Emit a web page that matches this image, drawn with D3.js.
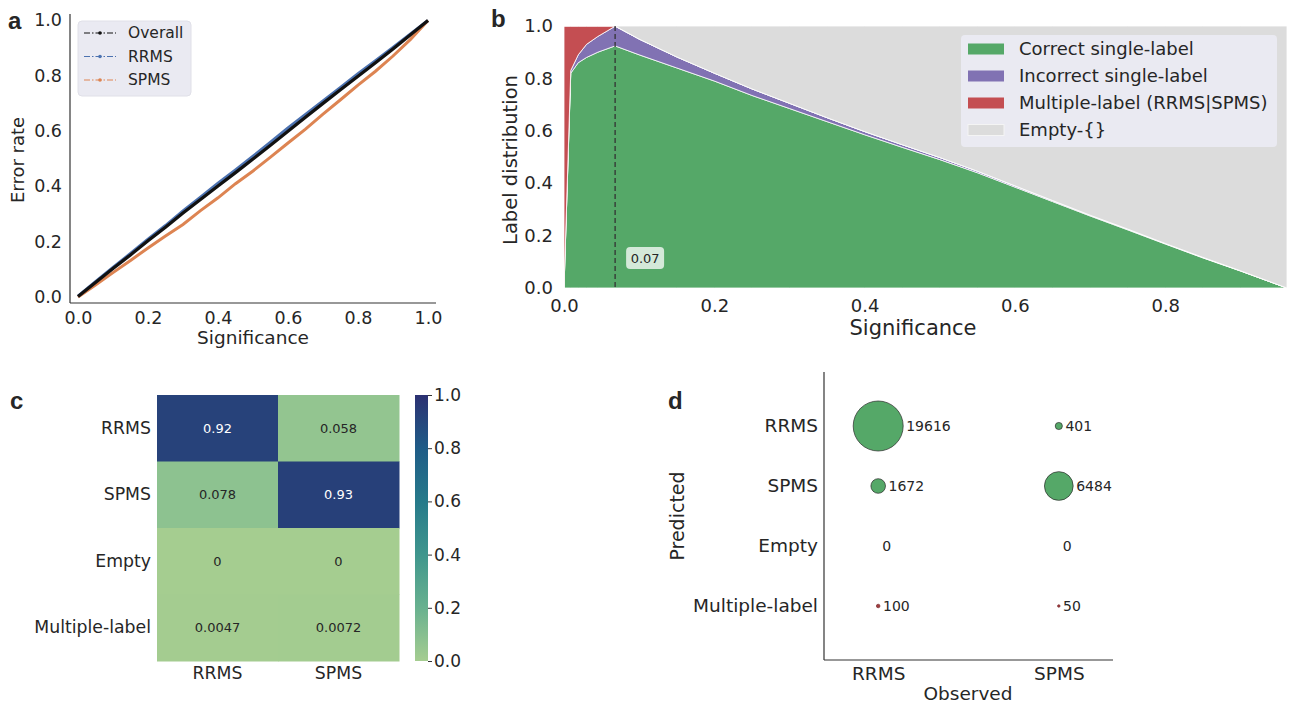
<!DOCTYPE html>
<html>
<head>
<meta charset="utf-8">
<script src="https://cdn.jsdelivr.net/npm/d3@7"></script>
<style>
body { margin: 0; background: #fff; }
svg text { font-family: "DejaVu Sans", sans-serif; fill: #262626; }
</style>
</head>
<body>
<svg id="fig" width="1292" height="707"></svg>
<script>
// ---- panel a : calibration ----
const sigA = [0, 0.05, 0.1, 0.15, 0.2, 0.25, 0.3, 0.35, 0.4, 0.45, 0.5, 0.55, 0.6, 0.65, 0.7, 0.75, 0.8, 0.85, 0.9, 0.95, 1.0];
const errOverall = [0.002, 0.052, 0.103, 0.152, 0.203, 0.252, 0.303, 0.352, 0.401, 0.449, 0.498, 0.548, 0.598, 0.649, 0.699, 0.748, 0.797, 0.846, 0.895, 0.947, 0.998];
const errRRMS = [0.003, 0.055, 0.107, 0.157, 0.209, 0.258, 0.311, 0.36, 0.411, 0.459, 0.508, 0.559, 0.61, 0.659, 0.708, 0.757, 0.806, 0.853, 0.901, 0.95, 0.998];
const errSPMS = [0, 0.043, 0.088, 0.132, 0.177, 0.22, 0.262, 0.312, 0.358, 0.409, 0.455, 0.505, 0.556, 0.606, 0.66, 0.712, 0.765, 0.815, 0.87, 0.93, 0.998];
const seriesA = ["Overall", "RRMS", "SPMS"];

// ---- panel b : label distribution ----
const sigB = [0, 0.009, 0.019, 0.03, 0.045, 0.068, 0.1, 0.15, 0.2, 0.25, 0.3, 0.35, 0.4, 0.45, 0.5, 0.55, 0.6, 0.65, 0.7, 0.75, 0.8, 0.85, 0.9, 0.962];
const correctB = [0, 0.82, 0.86, 0.88, 0.9, 0.924, 0.89, 0.84, 0.79, 0.735, 0.685, 0.635, 0.585, 0.537, 0.49, 0.44, 0.385, 0.33, 0.275, 0.222, 0.168, 0.115, 0.065, 0];
const incorrectB = [0, 0.01, 0.03, 0.05, 0.06, 0.075, 0.06, 0.042, 0.03, 0.025, 0.02, 0.015, 0.012, 0.01, 0.008, 0.006, 0.005, 0.004, 0.003, 0.003, 0.002, 0.002, 0.001, 0];
const multipleB = [1, 0.17, 0.11, 0.07, 0.04, 0.001, 0, 0, 0, 0, 0, 0, 0, 0, 0, 0, 0, 0, 0, 0, 0, 0, 0, 0];
const emptyB = [0, 0, 0, 0, 0, 0, 0.05, 0.118, 0.18, 0.24, 0.295, 0.35, 0.403, 0.453, 0.502, 0.554, 0.61, 0.666, 0.722, 0.775, 0.83, 0.883, 0.934, 1];
const labelsB = ["Correct single-label", "Incorrect single-label", "Multiple-label (RRMS|SPMS)", "Empty-{}"];
const cutoff = 0.068;
const cutoffLabel = "0.07";

// ---- panel c : normalised confusion ----
const predRows = ["RRMS", "SPMS", "Empty", "Multiple-label"];
const obsCols = ["RRMS", "SPMS"];
const rateRRMS = [0.92, 0.078, 0, 0.0047];
const rateSPMS = [0.058, 0.93, 0, 0.0072];
const rateText = [["0.92", "0.058"], ["0.078", "0.93"], ["0", "0"], ["0.0047", "0.0072"]];

// ---- panel d : counts ----
const countRRMS = [19616, 1672, 0, 100];
const countSPMS = [401, 6484, 0, 50];

const svg = d3.select("#fig");
const green = "#55a868", purple = "#8172b3", red = "#c44e52", grey = "#dcdcdc";
const blue = "#4c72b0", orange = "#dd8452";

function panelLetter(x, y, t) {
  svg.append("text").attr("x", x).attr("y", y)
    .style("font-family", "Liberation Sans, Arial, sans-serif")
    .style("font-size", "24px").style("font-weight", "bold").text(t);
}
function cleanAxis(g, size) {
  g.select(".domain").remove();
  g.selectAll("text").style("font-size", size + "px").style("font-family", "DejaVu Sans").attr("fill", "#262626");
}

// ================= panel a =================
{
  const x = d3.scaleLinear([0, 1], [78, 428]);
  const y = d3.scaleLinear([0, 1], [297, 20]);
  const g = svg.append("g");
  g.append("line").attr("x1", 70).attr("x2", 70).attr("y1", 14).attr("y2", 303).attr("stroke", "#333").attr("stroke-width", 1.2);
  g.append("line").attr("x1", 70).attr("x2", 436).attr("y1", 303).attr("y2", 303).attr("stroke", "#333").attr("stroke-width", 1.2);

  g.append("g").attr("transform", "translate(0,303)")
    .call(d3.axisBottom(x).tickValues([0, 0.2, 0.4, 0.6, 0.8, 1]).tickFormat(d3.format(".1f")).tickSize(0).tickPadding(9))
    .call(a => cleanAxis(a, 17.5));
  g.append("g").attr("transform", "translate(70,0)")
    .call(d3.axisLeft(y).tickValues([0, 0.2, 0.4, 0.6, 0.8, 1]).tickFormat(d3.format(".1f")).tickSize(0).tickPadding(8))
    .call(a => cleanAxis(a, 17.5));

  const line = d3.line().x((d, i) => x(sigA[i])).y(d => y(d));
  const cols = { Overall: "#111", RRMS: blue, SPMS: orange };
  const vals = { Overall: errOverall, RRMS: errRRMS, SPMS: errSPMS };
  ["RRMS", "SPMS", "Overall"].forEach(k => {
    g.append("path").attr("d", line(vals[k])).attr("fill", "none")
      .attr("stroke", cols[k]).attr("stroke-width", k === "Overall" ? 3.2 : 3);
  });

  g.append("text").attr("transform", "translate(24,160) rotate(-90)").attr("text-anchor", "middle").style("font-size", "18px").text("Error rate");
  g.append("text").attr("x", 253).attr("y", 344).attr("text-anchor", "middle").style("font-size", "18.5px").text("Significance");

  // legend
  const lg = g.append("g");
  lg.append("rect").attr("x", 78).attr("y", 21).attr("width", 113).attr("height", 75).attr("rx", 4)
    .attr("fill", "#eaeaf2").attr("stroke", "#e0e0e8");
  seriesA.forEach((k, i) => {
    const yy = 33 + i * 23.5;
    lg.append("line").attr("x1", 84).attr("x2", 116).attr("y1", yy).attr("y2", yy)
      .attr("stroke", cols[k]).attr("stroke-width", 1.2).attr("stroke-dasharray", "6,2,1.5,2");
    lg.append("circle").attr("cx", 100).attr("cy", yy).attr("r", 1.8).attr("fill", cols[k]);
    lg.append("text").attr("x", 128).attr("y", yy).attr("dy", "0.35em").style("font-size", "15.5px").text(k);
  });
  panelLetter(8, 29, "a");
}

// ================= panel b =================
{
  const x = d3.scaleLinear([0, 0.962], [564, 1287]);
  const y = d3.scaleLinear([0, 1], [288, 26]);
  const g = svg.append("g");
  g.append("rect").attr("x", x(0)).attr("y", y(1)).attr("width", x(0.962) - x(0)).attr("height", y(0) - y(1)).attr("fill", grey);

  const rows = sigB.map((s, i) => ({ s, correct: correctB[i], incorrect: incorrectB[i], multiple: multipleB[i], empty: emptyB[i] }));
  const keys = ["correct", "incorrect", "multiple", "empty"];
  const colors = [green, purple, red, grey];
  const stack = d3.stack().keys(keys)(rows);
  const area = d3.area().x(d => x(d.data.s)).y0(d => y(d[0])).y1(d => y(d[1]));
  stack.forEach((layer, i) => {
    g.append("path").attr("d", area(layer)).attr("fill", colors[i]).attr("stroke", "#fff").attr("stroke-width", 0.8);
  });

  g.append("line").attr("x1", x(cutoff)).attr("x2", x(cutoff)).attr("y1", y(1)).attr("y2", y(0))
    .attr("stroke", "#333").attr("stroke-width", 1.3).attr("stroke-dasharray", "5,3");
  g.append("rect").attr("x", x(cutoff) + 11).attr("y", 247).attr("width", 38).attr("height", 22).attr("rx", 4)
    .attr("fill", "#fff").attr("fill-opacity", 0.75);
  g.append("text").attr("x", x(cutoff) + 30).attr("y", 258).attr("dy", "0.35em").attr("text-anchor", "middle").style("font-size", "13px").text(cutoffLabel);

  g.append("g").attr("transform", "translate(0,288)")
    .call(d3.axisBottom(x).tickValues([0, 0.2, 0.4, 0.6, 0.8]).tickFormat(d3.format(".1f")).tickSize(0).tickPadding(11))
    .call(a => cleanAxis(a, 18));
  g.append("g").attr("transform", "translate(564,0)")
    .call(d3.axisLeft(y).tickValues([0, 0.2, 0.4, 0.6, 0.8, 1]).tickFormat(d3.format(".1f")).tickSize(0).tickPadding(11))
    .call(a => cleanAxis(a, 18));

  g.append("text").attr("transform", "translate(517,160) rotate(-90)").attr("text-anchor", "middle").style("font-size", "19.5px").text("Label distribution");
  g.append("text").attr("x", 913).attr("y", 335).attr("text-anchor", "middle").style("font-size", "21px").text("Significance");

  const lg = g.append("g");
  lg.append("rect").attr("x", 961).attr("y", 35).attr("width", 316).attr("height", 112).attr("rx", 4).attr("fill", "#eaeaf2");
  labelsB.forEach((t, i) => {
    const yy = 49 + i * 27;
    lg.append("rect").attr("x", 968).attr("y", yy - 5.5).attr("width", 36).attr("height", 11)
      .attr("fill", colors[i]).attr("stroke", i === 3 ? "#f4f4f4" : "none");
    lg.append("text").attr("x", 1019).attr("y", yy).attr("dy", "0.35em").style("font-size", "18px").text(t);
  });
  panelLetter(491, 27, "b");
}

// ================= panel c =================
{
  const x = d3.scaleBand(obsCols, [157, 399]);
  const y = d3.scaleBand(predRows, [395, 661]);
  const crest = d3.scaleLinear([0, 0.2, 0.4, 0.6, 0.8, 1],
    ["#a5cd90", "#68b18f", "#3f968d", "#267a8a", "#1f5c87", "#2c3172"]).interpolate(d3.interpolateRgb);
  const cells = [];
  predRows.forEach((r, i) => {
    cells.push({ r, c: "RRMS", v: rateRRMS[i], t: rateText[i][0] });
    cells.push({ r, c: "SPMS", v: rateSPMS[i], t: rateText[i][1] });
  });
  const g = svg.append("g");
  g.selectAll("rect.cell").data(cells).join("rect").attr("class", "cell")
    .attr("x", d => x(d.c)).attr("y", d => y(d.r))
    .attr("width", x.bandwidth() + 0.5).attr("height", y.bandwidth() + 0.5)
    .attr("fill", d => crest(d.v));
  g.selectAll("text.val").data(cells).join("text").attr("class", "val")
    .attr("x", d => x(d.c) + x.bandwidth() / 2).attr("y", d => y(d.r) + y.bandwidth() / 2)
    .attr("dy", "0.35em").attr("text-anchor", "middle").style("font-size", "13px")
    .style("fill", d => d.v > 0.5 ? "#fff" : "#262626").text(d => d.t);

  g.append("g").attr("transform", "translate(157,0)")
    .call(d3.axisLeft(y).tickSize(0).tickPadding(6)).call(a => cleanAxis(a, 17.3));
  g.append("g").attr("transform", "translate(0,661)")
    .call(d3.axisBottom(x).tickSize(0).tickPadding(6)).call(a => cleanAxis(a, 17.3));

  // colour bar
  const cb = d3.scaleLinear([0, 1], [661, 395]);
  const defs = svg.append("defs");
  const grad = defs.append("linearGradient").attr("id", "crest").attr("x1", 0).attr("x2", 0).attr("y1", 1).attr("y2", 0);
  d3.range(0, 1.0001, 0.1).forEach(t => grad.append("stop").attr("offset", t).attr("stop-color", crest(t)));
  g.append("rect").attr("x", 415).attr("y", 395).attr("width", 13).attr("height", 266).attr("fill", "url(#crest)");
  g.append("g").attr("transform", "translate(428,0)")
    .call(d3.axisRight(cb).tickValues([0, 0.2, 0.4, 0.6, 0.8, 1]).tickFormat(d3.format(".1f")).tickSize(4).tickPadding(2))
    .call(a => { cleanAxis(a, 17); a.selectAll("line").attr("stroke", "#333"); });
  panelLetter(10, 409, "c");
}

// ================= panel d =================
{
  const x = d3.scaleLinear([-0.3, 1.3], [824, 1113]);
  const y = d3.scaleLinear([-0.9, 3.9], [372, 660]);
  const r = d3.scaleSqrt([0, 19616], [0, 25]);
  const g = svg.append("g");
  g.append("line").attr("x1", 824).attr("x2", 824).attr("y1", 372).attr("y2", 660).attr("stroke", "#333").attr("stroke-width", 1.2);
  g.append("line").attr("x1", 824).attr("x2", 1113).attr("y1", 660).attr("y2", 660).attr("stroke", "#333").attr("stroke-width", 1.2);

  const pts = [];
  predRows.forEach((p, i) => {
    pts.push({ xi: 0, yi: i, n: countRRMS[i] });
    pts.push({ xi: 1, yi: i, n: countSPMS[i] });
  });
  g.selectAll("circle").data(pts.filter(d => d.n > 0)).join("circle")
    .attr("cx", d => x(d.xi)).attr("cy", d => y(d.yi)).attr("r", d => r(d.n))
    .attr("fill", d => d.yi === 3 ? "#a13c3f" : green)
    .attr("stroke", d => d.yi === 3 ? "#7a2a2c" : "#2b2b2b").attr("stroke-width", 0.7);
  g.selectAll("text.cnt").data(pts).join("text").attr("class", "cnt")
    .attr("x", d => x(d.xi) + r(d.n) + (d.n > 0 ? 3 : 4)).attr("y", d => y(d.yi))
    .attr("dy", "0.35em").style("font-size", "14px").text(d => d.n);

  g.append("g").attr("transform", "translate(824,0)")
    .call(d3.axisLeft(y).tickValues([0, 1, 2, 3]).tickFormat(i => predRows[i]).tickSize(0).tickPadding(6))
    .call(a => cleanAxis(a, 18.5));
  g.append("g").attr("transform", "translate(0,660)")
    .call(d3.axisBottom(x).tickValues([0, 1]).tickFormat(i => obsCols[i]).tickSize(0).tickPadding(7))
    .call(a => cleanAxis(a, 18.5));
  g.append("text").attr("transform", "translate(684,516) rotate(-90)").attr("text-anchor", "middle").style("font-size", "19px").text("Predicted");
  g.append("text").attr("x", 968).attr("y", 700).attr("text-anchor", "middle").style("font-size", "18.5px").text("Observed");
  panelLetter(668, 409, "d");
}
</script>
</body>
</html>
